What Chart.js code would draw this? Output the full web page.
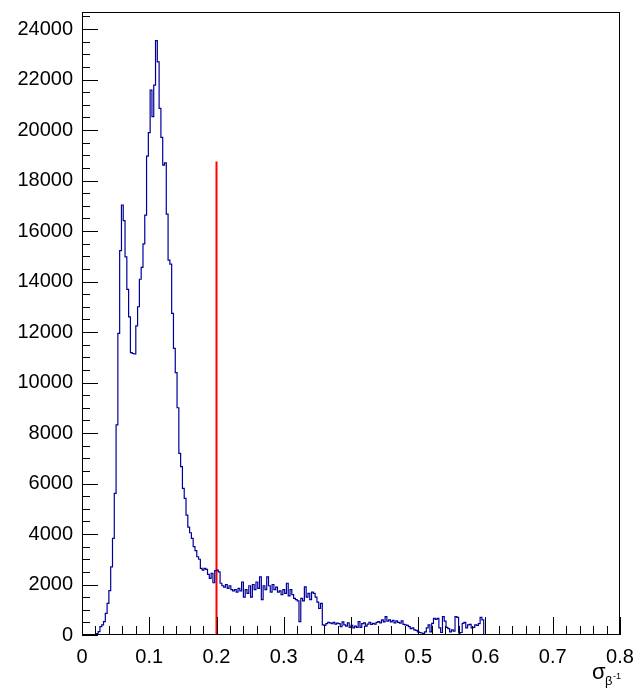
<!DOCTYPE html>
<html>
<head>
<meta charset="utf-8">
<script src="https://cdn.jsdelivr.net/npm/chart.js@4.4.0/dist/chart.umd.min.js"></script>
<style>
  html, body { margin: 0; padding: 0; background: #fff; }
</style>
</head>
<body>
<canvas id="c" width="633" height="689"></canvas>
<script>
// histogram: 300 bins over 0..0.8, filled only up to 0.6
const binWidth = 0.8 / 300;
const counts = [
  0, 0, 0, 0, 0, 0, 0, 0, 0, 60,
  130, 330, 400, 530, 860, 1255, 1755, 2700, 3830, 5610,
  8320, 11950, 15220, 17030, 16410, 14980, 13690, 12600, 11180, 11150,
  11130, 12240, 13000, 14090, 14560, 15490, 16630, 18970, 19900, 21580,
  20530, 21780, 23540, 22700, 20860, 19710, 18610, 18700, 16670, 14850,
  14690, 12740, 11350, 10390, 9000, 7190, 6670, 5810, 5410, 4750,
  4270, 4050, 3830, 3500, 3340, 3100, 3000, 2640, 2570, 2640,
  2600, 2400, 2240, 2440, 2070, 2550, 2570, 2500, 2050, 1950,
  1900, 2000, 1850, 1950, 1800, 1750, 1800, 1700, 1850, 1750,
  2100, 1500, 1800, 1650, 1950, 1500, 2000, 1800, 2100, 1850,
  2300, 1400, 1950, 1800, 2300, 1950, 1700, 2000, 1800, 1900,
  1700, 1750, 1600, 1800, 1650, 2050, 1550, 1800, 1600, 1450,
  1400, 1350, 530, 1450, 1350, 1910, 1500, 1650, 1400, 1700,
  1650, 1500, 1300, 1050, 1250, 400, 380, 450, 500, 480,
  450, 500, 430, 470, 450, 330, 520, 400, 350, 480,
  300, 380, 280, 350, 300, 530, 300, 450, 480, 350,
  430, 500, 420, 460, 430, 500, 530, 480, 600, 520,
  725, 550, 600, 520, 580, 480, 560, 500, 470, 560,
  420, 400, 380, 330, 250, 280, 200, 180, 120, 100,
  80, 60, 120, 280, 400, 120, 460, 660, 620, 660,
  280, 100, 730, 550, 300, 250, 120, 200, 150, 730,
  700, 80, 100, 460, 500, 280, 400, 420, 280, 300,
  400, 380, 450, 700, 600
];
// red cut line
const cutX = [0.2, 0.2];
const cutY = [0, 18750];
const xTicks = [0, 0.1, 0.2, 0.3, 0.4, 0.5, 0.6, 0.7, 0.8];
const yTicks = [0, 2000, 4000, 6000, 8000, 10000, 12000, 14000, 16000, 18000, 20000, 22000, 24000];
const xMax = 0.8;
const yMax = 24675;
const xMinorDiv = 5, yMinorDiv = 4;

const histPoints = counts.map((v, i) => ({ x: i * binWidth, y: v }));
histPoints.push({ x: counts.length * binWidth, y: 0 });
const cutPoints = cutX.map((x, i) => ({ x, y: cutY[i] }));

const rootFrame = {
  id: 'rootFrame',
  afterDraw(chart) {
    const { ctx, chartArea: a, scales: { x, y } } = chart;
    ctx.save();
    ctx.strokeStyle = '#000';
    ctx.lineWidth = 1;
    ctx.strokeRect(a.left + 0.5, a.top + 0.5, a.right - a.left - 1, a.bottom - a.top - 1);
    ctx.beginPath();
    const xs = xTicks[1] - xTicks[0];
    for (let k = 0; k <= (xTicks.length - 1) * xMinorDiv; k++) {
      const px = Math.round(x.getPixelForValue(k * xs / xMinorDiv)) + 0.5;
      const len = k % xMinorDiv === 0 ? 18 : 9;
      ctx.moveTo(px, a.bottom);
      ctx.lineTo(px, a.bottom - len);
    }
    const ys = yTicks[1] - yTicks[0];
    for (let k = 0; k * ys / yMinorDiv <= yMax; k++) {
      const py = Math.round(y.getPixelForValue(k * ys / yMinorDiv)) + 0.5;
      const len = k % yMinorDiv === 0 ? 16 : 8;
      ctx.moveTo(a.left, py);
      ctx.lineTo(a.left + len, py);
    }
    ctx.stroke();

    // axis title: sigma with subscript beta^-1
    ctx.fillStyle = '#000';
    ctx.textBaseline = 'alphabetic';
    ctx.textAlign = 'left';
    const bx = a.right - 28, by = a.bottom + 44;
    ctx.font = '22px "Liberation Sans"';
    ctx.fillText('σ', bx, by);
    ctx.font = '13px "Liberation Sans"';
    ctx.fillText('β', bx + 13, by + 6);
    ctx.font = '9px "Liberation Sans"';
    ctx.fillText('-1', bx + 21, by);
    ctx.restore();
  }
};

const tickFont = { family: 'Liberation Sans', size: 20 };

new Chart(document.getElementById('c'), {
  type: 'line',
  data: {
    datasets: [
      { data: histPoints, stepped: 'after', borderColor: '#000099', borderWidth: 1.2, pointRadius: 0, fill: false },
      { data: cutPoints, borderColor: '#ff0000', borderWidth: 2, pointRadius: 0, fill: false }
    ]
  },
  options: {
    responsive: false,
    animation: false,
    devicePixelRatio: 1,
    layout: { padding: { top: 12, right: 13, left: 0, bottom: 0 } },
    plugins: { legend: { display: false }, tooltip: { enabled: false } },
    scales: {
      x: {
        type: 'linear', min: 0, max: xMax,
        grid: { display: false, drawTicks: false },
        border: { display: false },
        afterBuildTicks: s => { s.ticks = xTicks.map(v => ({ value: v })); },
        ticks: { padding: 10, color: '#000', font: tickFont, maxRotation: 0, autoSkip: false,
          callback: v => String(v) },
        afterFit: s => { s.height = 54; s.paddingLeft = 0; s.paddingRight = 0; }
      },
      y: {
        min: 0, max: yMax,
        grid: { display: false, drawTicks: false },
        border: { display: false },
        afterBuildTicks: s => { s.ticks = yTicks.map(v => ({ value: v })); },
        ticks: { padding: 9, color: '#000', font: tickFont, autoSkip: false,
          callback: v => String(v) },
        afterFit: s => { s.width = 82; s.paddingTop = 0; s.paddingBottom = 0; }
      }
    }
  },
  plugins: [rootFrame]
});
</script>
</body>
</html>
